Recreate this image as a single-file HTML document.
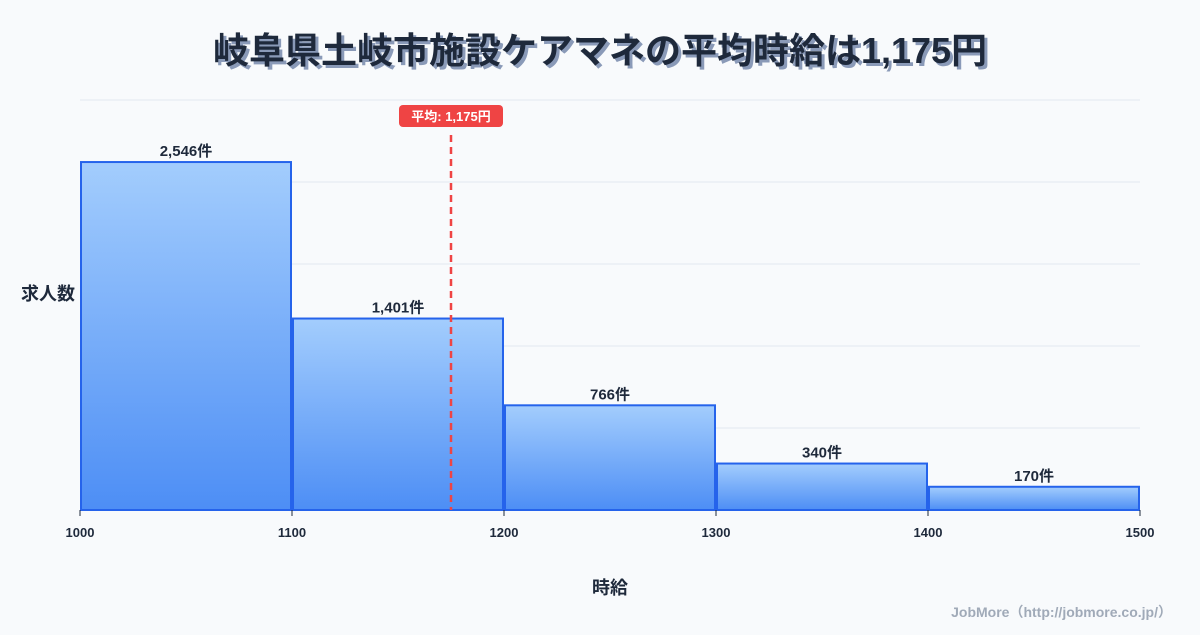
<!DOCTYPE html>
<html><head><meta charset="utf-8"><style>
body{margin:0;background:#f8fafc;font-family:"Liberation Sans","Noto Sans CJK JP",sans-serif;}
svg text{font-family:"Liberation Sans","Noto Sans CJK JP",sans-serif;}
</style></head><body>
<svg id="c" width="1200" height="630" viewBox="0 0 1200 630" xmlns="http://www.w3.org/2000/svg">
<defs><linearGradient id="g" x1="0" y1="0" x2="0" y2="1"><stop offset="0" stop-color="#a3cdfd"/><stop offset="1" stop-color="#4d8ef5"/></linearGradient></defs>
<rect width="1200" height="630" fill="#f8fafc"/>
<text x="603" y="66" text-anchor="middle" font-size="36" font-weight="bold" fill="#8a9ab8">岐阜県土岐市施設ケアマネの平均時給は1,175円</text>
<text x="600" y="63" text-anchor="middle" font-size="36" font-weight="bold" fill="#1e293b">岐阜県土岐市施設ケアマネの平均時給は1,175円</text>
<g id="grid"></g><g id="bars"></g><g id="ticks"></g>
<text x="48" y="300" text-anchor="middle" font-size="18" font-weight="bold" fill="#1e293b">求人数</text>
<text x="610" y="594" text-anchor="middle" font-size="18" font-weight="bold" fill="#1e293b">時給</text>
<text x="1172" y="617" text-anchor="end" font-size="14" font-weight="bold" fill="#a0aab8">JobMore（http://jobmore.co.jp/）</text>
<g id="mean"></g>
</svg>
<script>
const binStarts=[1000,1100,1200,1300,1400];
const counts=[2546,1401,766,340,170];
const countLabels=["2,546件","1,401件","766件","340件","170件"];
const xTicks=[1000,1100,1200,1300,1400,1500];
const meanValue=1175;
const meanLabel="平均: 1,175円";
const yMax=3000, binW=100;
const X=v=>80+(v-1000)*(1060/500);
const Y=v=>510-v/yMax*410;
const NS="http://www.w3.org/2000/svg";
function mk(t,a,p,txt){const e=document.createElementNS(NS,t);for(const k in a)e.setAttribute(k,a[k]);if(txt!=null)e.textContent=txt;p.appendChild(e);return e;}
const grid=document.getElementById('grid');
for(let v=0;v<=yMax;v+=600){const l=mk('line',{x1:80,x2:1140,y1:Y(v),y2:Y(v),stroke:'#e2e8f0','stroke-width':1},grid);

}
const bars=document.getElementById('bars');
binStarts.forEach((s,i)=>{const x0=X(s)+1,x1=X(s+binW)-1,y=Y(counts[i]);
const r=mk('rect',{x:x0,y:y,width:x1-x0,height:510-y,fill:'url(#g)',stroke:'#2563eb','stroke-width':2},bars);


const t=mk('text',{x:(x0+x1)/2,y:y-6,'text-anchor':'middle','font-size':15,'font-weight':'bold',fill:'#1e293b'},bars,countLabels[i]);

});
const ticks=document.getElementById('ticks');
xTicks.forEach(v=>{mk('line',{x1:X(v),x2:X(v),y1:510,y2:516,stroke:'#1e293b','stroke-width':1},ticks);
const t=mk('text',{x:X(v),y:537,'text-anchor':'middle','font-size':13,'font-weight':'bold',fill:'#1e293b'},ticks,v);

});
const mg=document.getElementById('mean');const mx=X(meanValue);
const ml=mk('line',{x1:mx,x2:mx,y1:135,y2:510,stroke:'#ef4444','stroke-width':2.5,'stroke-dasharray':'7,5'},mg);


const mb=mk('rect',{x:mx-52,y:105,width:104,height:22,rx:4,fill:'#ef4444'},mg);


const mt=mk('text',{x:mx,y:121,'text-anchor':'middle','font-size':13,'font-weight':'bold',fill:'#fff'},mg,meanLabel);


</script>
</body></html>
